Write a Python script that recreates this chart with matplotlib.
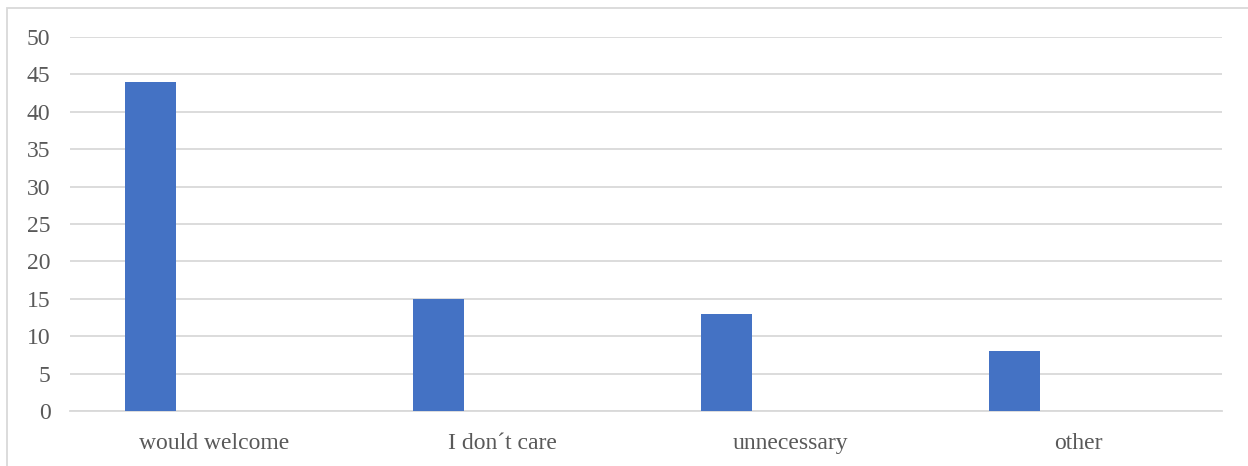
import matplotlib
matplotlib.use("Agg")
import matplotlib.pyplot as plt
from matplotlib.patches import Rectangle
import numpy as np

categories = ["would welcome", "I don\u00b4t care", "unnecessary", "other"]
values = [44, 15, 13, 8]
yticks = [0, 5, 10, 15, 20, 25, 30, 35, 40, 45, 50]

plt.rcParams['font.family'] = ['Liberation Serif', 'DejaVu Serif']

fig = plt.figure(figsize=(12.48, 4.66), dpi=100)
ax = fig.add_axes([70/1248, 55/466, (1222-70)/1248, (411-37)/466])

x = np.arange(len(categories))
ax.bar(x - 0.22, values, width=0.175, color="#4472C4", zorder=3)

ax.set_xlim(-0.5, len(categories) - 0.5)
ax.set_ylim(0, 50)
ax.set_yticks(yticks)
ax.set_xticks(x)
ax.set_xticklabels(categories)
ax.grid(axis='y', color='#d9d9d9', linewidth=1.3, zorder=0)
for s in ['top', 'right', 'left']:
    ax.spines[s].set_visible(False)
ax.spines['bottom'].set_color('#d9d9d9')
ax.spines['bottom'].set_linewidth(1.3)
ax.tick_params(axis='both', length=0, labelsize=17, labelcolor='#595959')
ax.tick_params(axis='y', pad=14)
ax.tick_params(axis='x', pad=16)

fig.patches.append(Rectangle((7/1248, -0.1), 1.2, (466-8)/466 + 0.1,
                             transform=fig.transFigure, fill=False,
                             edgecolor='#d9d9d9', linewidth=1.3))

fig.savefig("out.png", dpi=100)
